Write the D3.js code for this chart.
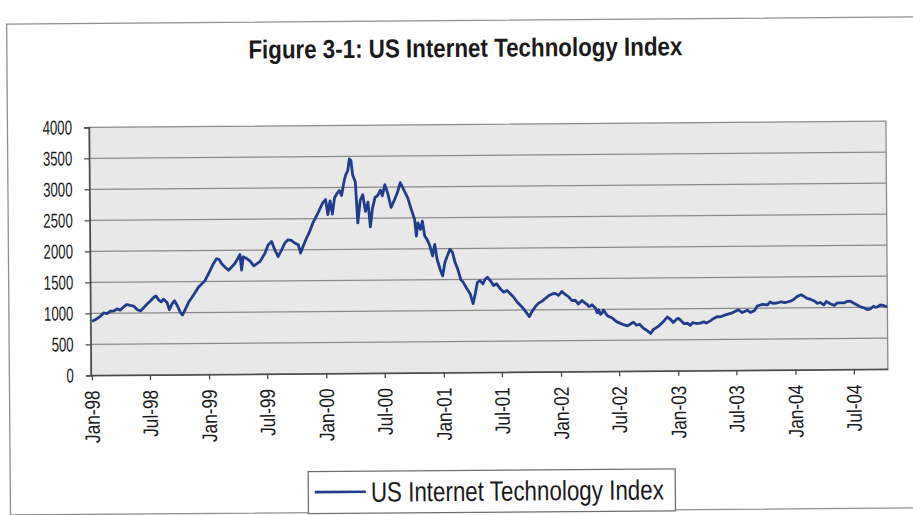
<!DOCTYPE html>
<html>
<head>
<meta charset="utf-8">
<script src="https://cdn.jsdelivr.net/npm/d3@7"></script>
<style>
  html, body { margin: 0; padding: 0; background: #ffffff; }
  svg { display: block; font-family: "Liberation Sans", Arial, sans-serif; }
</style>
</head>
<body>
<svg id="chart" width="913" height="515"></svg>
<script>
// Weekly-ish readings of the US Internet Technology Index, Jan 1998 – Oct 2004.
// Dates are stored as days since 1 Jan 1998.
const startDate = new Date(1998, 0, 1);
const dayOffsets = [
  2, 12, 28, 38, 49, 59, 69, 80, 90, 101, 111, 121, 132, 142, 153, 163, 173, 184, 194, 201,
  210, 218, 225, 236, 243, 251, 259, 268, 277, 284, 293, 303, 314, 324, 334, 345, 355, 363, 371, 381,
  391, 399, 407, 417, 428, 438, 448, 457, 464, 469, 474, 485, 495, 507, 526, 542, 552, 563, 573, 583,
  594, 604, 614, 625, 635, 646, 653, 661, 672, 682, 692, 703, 713, 723, 732, 739, 746, 753, 760, 767,
  775, 782, 791, 796, 802, 807, 812, 817, 825, 832, 840, 848, 856, 864, 871, 878, 886, 895, 903, 909,
  917, 926, 936, 945, 956, 965, 978, 988, 999, 1009, 1014, 1019, 1027, 1033, 1040, 1047, 1056, 1064, 1071, 1078,
  1087, 1095, 1102, 1110, 1118, 1126, 1134, 1142, 1151, 1159, 1170, 1180, 1189, 1196, 1203, 1211, 1220, 1227, 1234, 1243,
  1253, 1263, 1274, 1284, 1295, 1305, 1315, 1326, 1336, 1346, 1357, 1364, 1372, 1383, 1393, 1404, 1414, 1424, 1436, 1445,
  1455, 1466, 1476, 1486, 1497, 1507, 1517, 1528, 1538, 1544, 1549, 1554, 1559, 1570, 1575, 1580, 1585, 1590, 1595, 1606,
  1613, 1622, 1635, 1644, 1657, 1669, 1679, 1688, 1697, 1707, 1719, 1731, 1741, 1750, 1761, 1769, 1781, 1793, 1803, 1812,
  1824, 1828, 1837, 1845, 1856, 1865, 1872, 1884, 1896, 1907, 1915, 1927, 1938, 1948, 1959, 1977, 1996, 2015, 2027, 2043,
  2052, 2065, 2074, 2090, 2105, 2114, 2124, 2136, 2149, 2158, 2167, 2177, 2186, 2199, 2211, 2221, 2229, 2239, 2252, 2260,
  2270, 2281, 2289, 2301, 2314, 2322, 2332, 2345, 2353, 2364, 2376, 2384, 2395, 2407, 2416, 2426, 2436, 2441, 2447, 2457,
  2467, 2473, 2478
];
const indexValues = [
  871, 897, 951, 1005, 995, 1032, 1032, 1069, 1048, 1101, 1139, 1123, 1112, 1058, 1032, 1085, 1139, 1193, 1247, 1274,
  1210, 1177, 1220, 1166, 1048, 1139, 1193, 1112, 1005, 962, 1058, 1166, 1247, 1328, 1408, 1462, 1516, 1597, 1677, 1785,
  1865, 1855, 1785, 1731, 1677, 1731, 1785, 1865, 1930, 1677, 1892, 1865, 1825, 1745, 1812, 1946, 2081, 2135, 2000, 1893,
  2000, 2108, 2161, 2150, 2108, 2081, 1946, 2054, 2188, 2296, 2430, 2538, 2645, 2753, 2806, 2565, 2785, 2570, 2834, 2895,
  2950, 2870, 3120, 3210, 3270, 3460, 3430, 3200, 3090, 2425, 2790, 2880, 2610, 2760, 2360, 2660, 2830, 2870, 2950, 2860,
  3040, 2895, 2670, 2775, 2910, 3070, 2930, 2823, 2634, 2473, 2205, 2419, 2312, 2446, 2205, 2151, 2043, 1882, 2070, 1829,
  1667, 1560, 1774, 1882, 1989, 1936, 1774, 1667, 1500, 1452, 1350, 1270, 1108, 1270, 1452, 1480, 1425, 1500, 1533, 1480,
  1398, 1425, 1344, 1290, 1318, 1263, 1210, 1129, 1075, 1021, 940, 892, 973, 1054, 1108, 1140, 1183, 1225, 1255, 1263,
  1230, 1293, 1245, 1210, 1145, 1150, 1090, 1145, 1102, 1080, 1048, 1055, 1075, 1021, 946, 994, 919, 940, 990, 900,
  880, 860, 800, 780, 750, 730, 760, 790, 740, 755, 690, 650, 605, 670, 704, 735, 795, 868, 832, 780,
  839, 845, 805, 758, 765, 731, 775, 760, 765, 785, 765, 800, 839, 866, 865, 900, 928, 975, 930, 968,
  930, 960, 1035, 1060, 1050, 1097, 1075, 1080, 1100, 1085, 1095, 1108, 1130, 1185, 1210, 1180, 1151, 1137, 1108, 1070,
  1083, 1043, 1100, 1062, 1035, 1070, 1075, 1075, 1097, 1100, 1062, 1043, 1008, 988, 963, 975, 1016, 1000, 1000, 1035,
  1027, 1011, 1016
];
const yTicks = [0, 500, 1000, 1500, 2000, 2500, 3000, 3500, 4000];
const xTickDates = d3.range(0, 14).map(i => new Date(1998 + Math.floor(i / 2), (i % 2) * 6, 1));
const chartTitle = "Figure 3-1: US Internet Technology Index";
const seriesName = "US Internet Technology Index";

const series = dayOffsets.map((d, i) => ({ date: d3.timeDay.offset(startDate, d), value: indexValues[i] }));

const svg = d3.select("#chart");
const plot = { left: 90, right: 887, top: 124.5, bottom: 372.5 };

const x = d3.scaleTime()
  .domain([new Date(1997, 11, 29), new Date(2004, 9, 15)])
  .range([plot.left, plot.right]);
const y = d3.scaleLinear().domain([0, 4000]).range([plot.bottom, plot.top]);

// squeeze text horizontally to a narrow face
function narrow(sel, f) {
  sel.each(function () {
    const L = this.getComputedTextLength();
    d3.select(this).attr("textLength", L * f).attr("lengthAdjust", "spacingAndGlyphs");
  });
}

// the whole sheet sits at a slight tilt
const page = svg.append("g").attr("transform", "rotate(-0.45 456 260)");

// outer chart frame
page.append("rect")
  .attr("x", 8.5).attr("y", 20.5).attr("width", 940).attr("height", 491)
  .attr("fill", "none").attr("stroke", "#8f8f8f").attr("stroke-width", 1.3);

// title
page.append("text")
  .attr("x", 467).attr("y", 57)
  .attr("text-anchor", "middle")
  .attr("font-size", 26).attr("font-weight", "bold").attr("fill", "#1a1a1a")
  .attr("textLength", 434).attr("lengthAdjust", "spacingAndGlyphs")
  .text(chartTitle);

// plot background
page.append("rect")
  .attr("x", plot.left).attr("y", plot.top)
  .attr("width", plot.right - plot.left).attr("height", plot.bottom - plot.top)
  .attr("fill", "#e8e8e8").attr("stroke", "#8a8a8a").attr("stroke-width", 1.3);

// horizontal gridlines
page.append("g")
  .selectAll("line")
  .data(yTicks.filter(v => v > 0 && v < 4000))
  .join("line")
  .attr("x1", plot.left).attr("x2", plot.right)
  .attr("y1", d => y(d)).attr("y2", d => y(d))
  .attr("stroke", "#8a8a8a").attr("stroke-width", 1.3);

// y axis
const yAxis = page.append("g")
  .attr("transform", `translate(${plot.left},0)`)
  .call(d3.axisLeft(y).tickValues(yTicks).tickFormat(d3.format("d")).tickSize(5).tickPadding(12));
yAxis.select(".domain").attr("stroke", "#4a4a4a").attr("stroke-width", 1.5);
yAxis.selectAll(".tick line").attr("stroke", "#4a4a4a").attr("stroke-width", 1.3);
yAxis.selectAll(".tick text")
  .attr("font-size", 20).attr("fill", "#1a1a1a")
  .attr("font-family", "Liberation Sans, Arial, sans-serif")
  .call(narrow, 0.66);

// x axis
const xAxis = page.append("g")
  .attr("transform", `translate(0,${plot.bottom})`)
  .call(d3.axisBottom(x).tickValues(xTickDates).tickFormat(d3.timeFormat("%b-%y")).tickSize(5).tickSizeOuter(0));
xAxis.select(".domain").attr("stroke", "#4a4a4a").attr("stroke-width", 1.5);
xAxis.selectAll(".tick line").attr("stroke", "#4a4a4a").attr("stroke-width", 1.3);
xAxis.selectAll(".tick text")
  .attr("font-size", 21).attr("fill", "#1a1a1a")
  .attr("font-family", "Liberation Sans, Arial, sans-serif")
  .attr("text-anchor", "end")
  .attr("dy", null)
  .attr("transform", "translate(7,15) rotate(-90)")
  .attr("x", 0).attr("y", 0)
  .call(narrow, 0.82);

// index line
const line = d3.line().x(d => x(d.date)).y(d => y(d.value));
page.append("path")
  .datum(series)
  .attr("d", line)
  .attr("fill", "none")
  .attr("stroke", "#1f3d8c")
  .attr("stroke-width", 2.8)
  .attr("stroke-linejoin", "round");

// legend
const legend = page.append("g");
legend.append("rect")
  .attr("x", 306.5).attr("y", 470.5).attr("width", 367).attr("height", 42)
  .attr("fill", "#ffffff").attr("stroke", "#6f6f6f").attr("stroke-width", 1.3);
legend.append("line")
  .attr("x1", 313).attr("x2", 364).attr("y1", 491).attr("y2", 491)
  .attr("stroke", "#1f3d8c").attr("stroke-width", 2.6);
legend.append("text")
  .attr("x", 369).attr("y", 501)
  .attr("font-size", 28).attr("fill", "#1a1a1a")
  .attr("textLength", 293).attr("lengthAdjust", "spacingAndGlyphs")
  .text(seriesName);
</script>
</body>
</html>
